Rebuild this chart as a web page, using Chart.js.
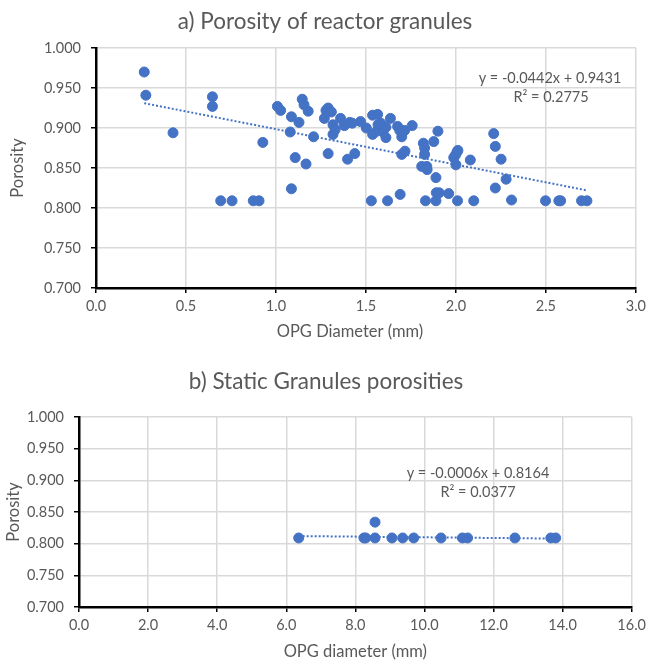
<!DOCTYPE html>
<html>
<head>
<meta charset="utf-8">
<script src="https://cdn.jsdelivr.net/npm/chart.js@4/dist/chart.umd.min.js"></script>
<style>
  html,body{margin:0;padding:0;background:#fff;}
  #wrap{position:relative;width:651px;height:662px;}
  canvas{position:absolute;left:0;}
  #chartA{top:0;}
  #chartB{top:345px;}
</style>
</head>
<body>
<div id="wrap">
  <canvas id="chartA" width="651" height="345"></canvas>
  <canvas id="chartB" width="651" height="317"></canvas>
</div>
<script>
// a) reactor granules: OPG diameter (mm) and porosity
const reactorDiameter = [
  0.268,0.277,0.428,0.647,0.647,0.693,0.756,0.874,0.906,0.927,
  1.008,1.026,1.086,1.079,1.086,1.107,1.128,1.146,1.156,1.179,
  1.167,1.209,1.269,1.278,1.290,1.308,1.290,1.317,1.317,1.329,
  1.359,1.380,1.398,1.410,1.424,1.438,1.470,1.502,1.530,1.537,
  1.537,1.565,1.567,1.560,1.583,1.595,1.611,1.611,1.620,1.636,
  1.676,1.688,1.690,1.699,1.699,1.717,1.715,1.757,1.810,1.819,
  1.826,1.826,1.831,1.838,1.840,1.877,1.889,1.889,1.891,1.900,
  1.907,1.960,1.988,1.997,2.000,2.006,2.009,2.011,2.080,2.099,
  2.210,2.219,2.219,2.251,2.279,2.309,2.498,2.572,2.582,2.698,
  2.728
];
const reactorPorosity = [
  0.970,0.941,0.894,0.939,0.927,0.809,0.809,0.809,0.809,0.882,
  0.927,0.922,0.914,0.895,0.824,0.863,0.907,0.936,0.929,0.921,
  0.855,0.889,0.912,0.922,0.925,0.920,0.868,0.904,0.892,0.898,
  0.912,0.903,0.861,0.907,0.906,0.868,0.908,0.900,0.809,0.916,
  0.892,0.917,0.904,0.896,0.906,0.895,0.901,0.888,0.809,0.912,
  0.902,0.897,0.817,0.889,0.867,0.871,0.897,0.903,0.852,0.881,
  0.875,0.867,0.809,0.852,0.848,0.883,0.838,0.809,0.819,0.896,
  0.819,0.818,0.863,0.866,0.854,0.870,0.809,0.872,0.860,0.809,
  0.893,0.877,0.825,0.861,0.836,0.810,0.809,0.809,0.809,0.809,
  0.809
];
// trendline ends as drawn
const reactorTrendX = [0.268, 2.728];
const reactorTrendY = [0.931, 0.822];
const reactorEquation = ['y = -0.0442x + 0.9431', 'R\u00b2 = 0.2775'];

// b) static granules
const staticDiameter = [6.36,8.25,8.30,8.57,8.57,9.06,9.37,9.69,10.48,11.10,11.25,12.62,13.66,13.80];
const staticPorosity = [0.809,0.809,0.809,0.834,0.809,0.809,0.809,0.809,0.809,0.809,0.809,0.809,0.809,0.809];
const staticTrendX = [6.36, 13.80];
const staticTrendY = [0.812, 0.808];
const staticEquation = ['y = -0.0006x + 0.8164', 'R\u00b2 = 0.0377'];

const yTicks = [0.700,0.750,0.800,0.850,0.900,0.950,1.000];

const BLUE = '#4472C4';
const GREY = '#595959';
const FONT = "Lato, 'Open Sans', sans-serif";

const toPts = (xs, ys) => xs.map((x,i)=>({x, y: ys[i]}));

// draws chart title, equation and other free texts
const textPlugin = {
  id: 'freeText',
  afterDraw(chart, args, opts){
    const ctx = chart.ctx;
    ctx.save();
    ctx.textAlign = 'center';
    ctx.textBaseline = 'middle';
    (opts.items || []).forEach(t=>{
      ctx.fillStyle = t.color || GREY;
      ctx.font = `${t.size}px ${FONT}`;
      ctx.fillText(t.text, t.x, t.y);
    });
    ctx.restore();
  }
};

function makeChart(id, cfg){
  return new Chart(document.getElementById(id), {
    type: 'scatter',
    data: {
      datasets: [
        {data: cfg.points, backgroundColor: BLUE, borderColor: BLUE, pointRadius: 5, pointHoverRadius: 5, order: 2},
        {type: 'line', data: cfg.trend, borderColor: BLUE, borderWidth: 2, borderDash: [2,2],
         pointRadius: 0, fill: false, showLine: true, order: 1}
      ]
    },
    options: {
      responsive: false,
      animation: false,
      layout: {padding: {left: 0, right: cfg.padRight, top: cfg.top, bottom: 0}},
      plugins: {
        legend: {display: false},
        tooltip: {enabled: false},
        freeText: {items: cfg.texts}
      },
      scales: {
        x: {
          type: 'linear', min: cfg.xMin, max: cfg.xMax,
          ticks: {stepSize: cfg.xStep, color: GREY, font: {family: FONT, size: 14.5}, padding: 5,
                  callback: v => v.toFixed(1)},
          grid: {color: '#d9d9d9', lineWidth: 1.5, tickColor: '#000', tickLength: 5},
          border: {color: '#000', width: 2.5},
          title: cfg.xTitle ? {display: true, text: cfg.xTitle, color: GREY, font: {family: FONT, size: 16.5}, padding: {top: 0, bottom: 0}} : {display: false},
          afterFit: s => { s.height = cfg.xHeight; }
        },
        y: {
          type: 'linear', min: 0.7, max: 1.0,
          afterBuildTicks: s => { s.ticks = yTicks.map(v=>({value: v})); },
          ticks: {color: GREY, font: {family: FONT, size: 14.5}, padding: 10,
                  callback: v => v.toFixed(3)},
          grid: {color: '#d9d9d9', lineWidth: 1.5, tickColor: '#000', tickLength: 5},
          border: {color: '#000', width: 2.5},
          title: {display: true, text: 'Porosity', color: GREY, font: {family: FONT, size: 16.5}, padding: {top: cfg.yTitlePad, bottom: 0}},
          afterFit: s => { s.width = cfg.yWidth; }
        }
      }
    },
    plugins: [textPlugin]
  });
}

makeChart('chartA', {
  points: toPts(reactorDiameter, reactorPorosity),
  trend: toPts(reactorTrendX, reactorTrendY),
  xMin: 0, xMax: 3, xStep: 0.5,
  padRight: 15, top: 48, yWidth: 96, xHeight: 345 - 288, yTitlePad: 8,
  xTitle: null,
  texts: [
    {text: 'a) Porosity of reactor granules', x: 325, y: 22, size: 22.5},
    {text: 'OPG Diameter (mm)', x: 350, y: 332, size: 16.5},
    {text: reactorEquation[0], x: 550, y: 78, size: 14.5},
    {text: reactorEquation[1], x: 551, y: 97, size: 14.5}
  ]
});

makeChart('chartB', {
  points: toPts(staticDiameter, staticPorosity),
  trend: toPts(staticTrendX, staticTrendY),
  xMin: 0, xMax: 16, xStep: 2,
  padRight: 15, top: 72, yWidth: 79, xHeight: 317 - 262, yTitlePad: 4,
  xTitle: 'OPG diameter (mm)',
  texts: [
    {text: 'b) Static Granules porosities', x: 326, y: 37, size: 22.5},
    {text: staticEquation[0], x: 478, y: 128, size: 14.5},
    {text: staticEquation[1], x: 478, y: 147, size: 14.5}
  ]
});
</script>
</body>
</html>
